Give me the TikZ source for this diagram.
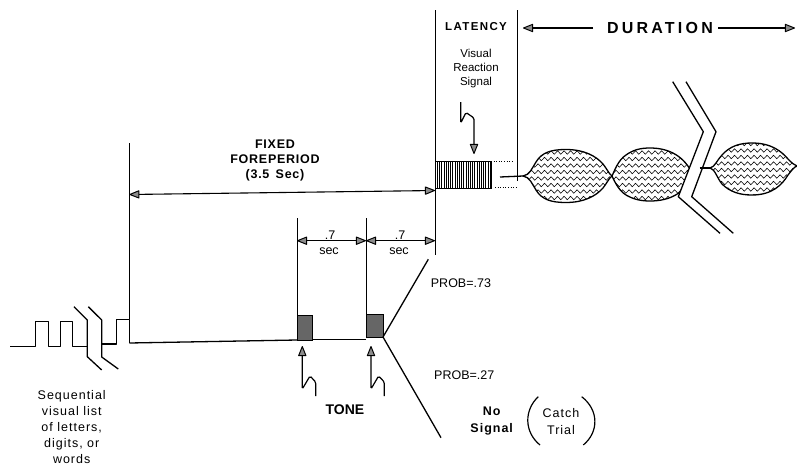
\documentclass[tikz,border=0pt]{standalone}
\usepackage{fontspec}
\setmainfont{Liberation Sans}
\usetikzlibrary{arrows.meta,decorations.pathmorphing}
\newcommand\fsz[2]{\fontsize{#1}{#2}\selectfont}
\begin{document}
\begin{tikzpicture}[x=1pt,y=-1pt,
  sig/.style={line width=1.3pt, line join=round},
  guide/.style={line width=0.6pt},
  tipT/.tip={Triangle[length=11pt,width=8.5pt,fill=black!45,line width=1pt,line join=round]},
  dim/.style={line width=1.1pt, tipT-tipT},
  onearrow/.style={line width=1.2pt, -tipT},
  squig/.style={line width=1.2pt, rounded corners=1.5pt, -tipT},
  wave/.style={line width=0.55pt, decorate, decoration={snake, segment length=6.5pt, amplitude=1.7pt}},
  lbl/.style={inner sep=0pt, align=center},
  tonebox/.style={fill=black!60, draw=black, line width=0.8pt},
]
\useasboundingbox (0,0) rectangle (797,474);

% ---------- pulse train and break ----------
\coordinate (p0) at (10,346.7);
\coordinate (bkA) at (87.3,346.7);
\coordinate (bkB) at (101.7,344);
\coordinate (fp0) at (129.3,343);
\draw[sig] (p0) -- (35.7,346.7) -- (35.7,321.7) -- (48.3,321.7) -- (48.3,346.7)
  -- (60.7,346.7) -- (60.7,321.7) -- (72.7,321.7) -- (72.7,346.7) -- (bkA);
\draw[sig] (74,306.7) -- (87.3,320) -- (87.3,356.7) -- (101.7,370);
\draw[sig] (88.3,306.7) -- (101.7,320) -- (101.7,357) -- (118.3,369);
\draw[sig] (bkB) -- (116.7,344) -- (116.7,319.3) -- (129.3,319.3) -- (fp0);

% ---------- main baseline with tones ----------
\coordinate (t1L) at (297,340);
\coordinate (t1R) at (312,339.3);
\coordinate (t2L) at (366,339.3);
\coordinate (br) at (383,337);
\coordinate (upEnd) at (428.3,259.3);
\coordinate (dnEnd) at (441,437.7);
\draw[sig] (fp0) -- (t1L);
\draw[tonebox] (297,315) rectangle (312,340);
\draw[tonebox] (366,314) rectangle (383,337.5);
\draw[sig] (t1R) -- (t2L);
\draw[sig] (br) -- (upEnd);
\draw[sig] (br) -- (dnEnd);

% ---------- guide verticals ----------
\draw[guide] (129.3,143) -- (129.3,319.3);
\draw[guide] (297,218) -- (297,315);
\draw[guide] (366,218) -- (366,314);
\draw[guide] (435,10) -- (435,255);
\draw[guide] (517.5,10) -- (517.5,181);

% ---------- dimension arrows ----------
\coordinate (fpL) at (129.3,194.5);
\coordinate (fpR) at (435,190.5);
\draw[dim] (fpL) -- (fpR);
\coordinate (d1) at (297,240.7);
\coordinate (d2) at (366,240.7);
\coordinate (d3) at (435,240.7);
\draw[dim] (d1) -- (d2);
\draw[dim] (d2) -- (d3);

\node[lbl, font=\fsz{12.5}{15}\bfseries\addfontfeatures{LetterSpace=6}] (fixed) at (275,160)
  {FIXED\\FOREPERIOD\\(3.5\enspace Sec)};
\node[lbl, font=\fsz{12.5}{14}, anchor=base] (s1a) at (330,239) {.7};
\node[lbl, font=\fsz{12.5}{14}] (s1b) at (329,251.5) {sec};
\node[lbl, font=\fsz{12.5}{14}, anchor=base] (s2a) at (400,239) {.7};
\node[lbl, font=\fsz{12.5}{14}] (s2b) at (399,251.5) {sec};

% ---------- latency ----------
\node[lbl, font=\fsz{11.5}{13}\bfseries\addfontfeatures{LetterSpace=12}] (lat) at (476,27) {LATENCY};
\node[lbl, font=\fsz{11.5}{14}] (vrs) at (476,69) {Visual\\Reaction\\Signal};
\coordinate (vsq) at (460.7,102);
\coordinate (vtip) at (474,154);
\draw[squig] (vsq) -- (460.7,123) -- (466,112.5) -- (474,118) -- (vtip);

% hatched box
\draw[line width=0.9pt] (435,161) rectangle (491,188);
\foreach \x in {437.2,439.4,...,490} \draw[line width=0.6pt] (\x,161) -- (\x,188);
\draw[line width=0.6pt, dotted] (491,161) -- (512,161);
\draw[line width=0.6pt, dotted] (495,187) -- (516,187);

% ---------- duration ----------
\node[lbl, font=\fsz{16}{18}\bfseries\addfontfeatures{LetterSpace=20}] (dur) at (660,28) {DURATION};
\coordinate (duL) at (523,28);
\coordinate (duR) at (795,28);
\draw[onearrow] (593,28) -- (duL);
\draw[onearrow] (718,28) -- (duR);

% ---------- response lobes ----------
\coordinate (rs0) at (500,177);
\coordinate (lobe1) at (523,176);
\draw[sig] (rs0) -- (lobe1);
\begin{scope}
\clip (523,176) .. controls (530,175) and (532,168) .. (536,162)
  .. controls (542,152) and (552,149.5) .. (566,149.5)
  .. controls (584,149.5) and (596,156) .. (603,164)
  .. controls (607,169) and (609,174) .. (612,176)
  .. controls (609,178) and (607,183) .. (603,188)
  .. controls (596,196) and (584,202.5) .. (566,202.5)
  .. controls (552,202.5) and (542,200) .. (536,190)
  .. controls (532,184) and (530,177) .. (523,176) -- cycle
  (612,176) .. controls (614,172) and (618,160) .. (626,155)
  .. controls (633,150) and (640,148) .. (650,148)
  .. controls (670,148) and (685,157) .. (693,175)
  .. controls (685,193) and (670,201) .. (650,201)
  .. controls (640,201) and (633,199) .. (626,195)
  .. controls (618,190) and (614,180) .. (612,176) -- cycle;
\foreach \y in {146,152.5,...,205} \draw[wave] (510,\y) -- (700,\y);
\end{scope}
\draw[sig] (523,176) .. controls (530,175) and (532,168) .. (536,162)
  .. controls (542,152) and (552,149.5) .. (566,149.5)
  .. controls (584,149.5) and (596,156) .. (603,164)
  .. controls (607,169) and (609,174) .. (612,176)
  .. controls (609,178) and (607,183) .. (603,188)
  .. controls (596,196) and (584,202.5) .. (566,202.5)
  .. controls (552,202.5) and (542,200) .. (536,190)
  .. controls (532,184) and (530,177) .. (523,176) -- cycle;
\draw[sig] (612,176) .. controls (614,172) and (618,160) .. (626,155)
  .. controls (633,150) and (640,148) .. (650,148)
  .. controls (670,148) and (685,157) .. (693,175)
  .. controls (685,193) and (670,201) .. (650,201)
  .. controls (640,201) and (633,199) .. (626,195)
  .. controls (618,190) and (614,180) .. (612,176) -- cycle;

% break
\fill[white] (672.7,81.7) -- (703.3,131.7) -- (678.3,196.7) -- (720,233.3)
  -- (733.3,233.3) -- (691.7,196.7) -- (716,131.7) -- (686,81.7) -- cycle;
\draw[sig] (672.7,81.7) -- (703.3,131.7) -- (678.3,196.7) -- (720,233.3);
\draw[sig] (686,81.7) -- (716,131.7) -- (691.7,196.7) -- (733.3,233.3);

\coordinate (rs1) at (699.5,168);
\coordinate (lobe3) at (710,168);
\draw[sig] (rs1) -- (lobe3);
\begin{scope}
\clip (710,168) .. controls (715,167) and (717,160) .. (722,155)
  .. controls (730,146) and (740,143) .. (752,143)
  .. controls (772,143) and (782,152) .. (788,159)
  .. controls (792,163) and (794,165) .. (797,166)
  .. controls (794,167) and (792,170) .. (788,175)
  .. controls (782,185) and (772,195) .. (752,195)
  .. controls (740,195) and (730,192) .. (722,184)
  .. controls (717,178) and (715,169) .. (710,168) -- cycle;
\foreach \y in {144,150.5,...,198} \draw[wave] (700,\y) -- (800,\y);
\end{scope}
\draw[sig] (710,168) .. controls (715,167) and (717,160) .. (722,155)
  .. controls (730,146) and (740,143) .. (752,143)
  .. controls (772,143) and (782,152) .. (788,159)
  .. controls (792,163) and (794,165) .. (797,166)
  .. controls (794,167) and (792,170) .. (788,175)
  .. controls (782,185) and (772,195) .. (752,195)
  .. controls (740,195) and (730,192) .. (722,184)
  .. controls (717,178) and (715,169) .. (710,168) -- cycle;

% ---------- tone arrows ----------
\coordinate (tn1) at (302.3,346);
\coordinate (tn2) at (371,346);
\draw[squig] (315.7,396) -- (315.7,382) -- (310,376) -- (302.3,389) -- (tn1);
\draw[squig] (384.3,396) -- (384.3,382) -- (378.6,376) -- (371,389) -- (tn2);
\node[lbl, font=\fsz{14}{16}\bfseries] (tone) at (345,410) {TONE};

% ---------- probabilities and catch ----------
\node[lbl, font=\fsz{12.5}{15}, anchor=west] (p73) at (430.7,283.3) {PROB=.73};
\node[lbl, font=\fsz{12.5}{15}, anchor=west] (p27) at (434,375) {PROB=.27};
\node[lbl, font=\fsz{12.5}{17}\bfseries\addfontfeatures{LetterSpace=8}] (nosig) at (491.7,421.5) {No\\Signal};
\node[lbl, font=\fsz{12.5}{17}\addfontfeatures{LetterSpace=8}] (catch) at (561,421.5) {Catch\\Trial};
\draw[line width=1.2pt] (538.3,396.7) .. controls (524,410) and (524,432) .. (540,445);
\draw[line width=1.2pt] (581.7,396.7) .. controls (599,410) and (599,432) .. (583.3,445);

% ---------- sequential list ----------
\node[lbl, font=\fsz{12.5}{16}\addfontfeatures{LetterSpace=8}] (seq) at (71.7,427.3)
  {Sequential\\visual list\\of letters,\\digits, or\\words};
\end{tikzpicture}
\end{document}
